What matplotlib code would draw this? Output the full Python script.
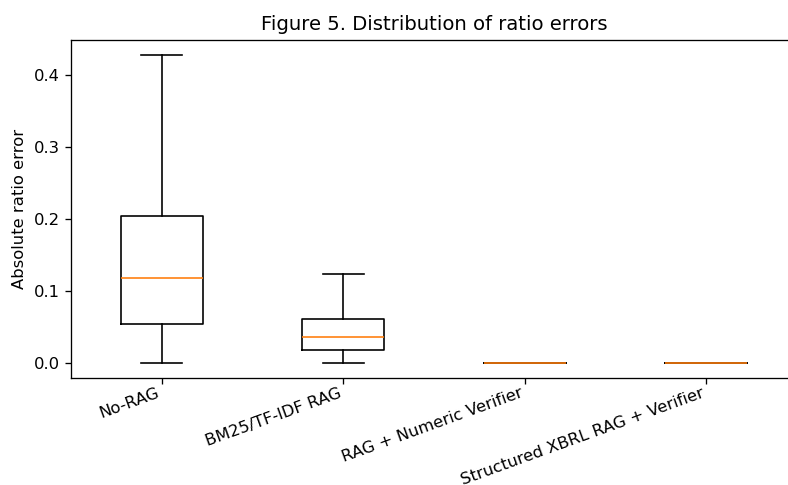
import matplotlib
matplotlib.use("Agg")
import matplotlib.pyplot as plt

categories = ["No-RAG", "BM25/TF-IDF RAG", "RAG + Numeric Verifier", "Structured XBRL RAG + Verifier"]
whisker_low = [0.0, 0.0, 0.0, 0.0]
q1 = [0.054, 0.018, 0.0, 0.0]
median = [0.118, 0.036, 0.0, 0.0]
q3 = [0.204, 0.061, 0.0, 0.0]
whisker_high = [0.428, 0.124, 0.0, 0.0]

stats = []
for lab, lo, a, m, b, hi in zip(categories, whisker_low, q1, median, q3, whisker_high):
    stats.append({"label": lab, "whislo": lo, "q1": a, "med": m, "q3": b, "whishi": hi, "fliers": []})

dpi = 118
fig = plt.figure(figsize=(788 / dpi, 485 / dpi), dpi=dpi)
ax = fig.add_axes([71 / 788, 1 - 378 / 485, (797 - 71) / 788, (378 - 40) / 485])
ax.bxp(stats, widths=0.45, showfliers=False)
ax.set_xlim(0.5, 4.5)
ax.set_title("Figure 5. Distribution of ratio errors")
ax.set_ylabel("Absolute ratio error")
ax.tick_params(axis="x", pad=1.0)
plt.setp(ax.get_xticklabels(), rotation=20, ha="right")
fig.savefig("out.png", dpi=dpi)
